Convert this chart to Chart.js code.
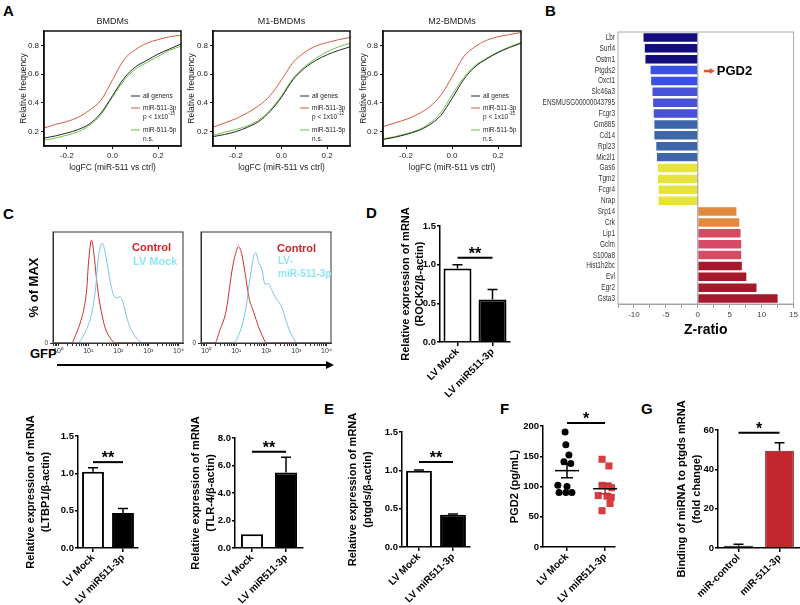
<!DOCTYPE html>
<html>
<head>
<meta charset="utf-8">
<script src="https://cdn.jsdelivr.net/npm/chart.js@4.4.1/dist/chart.umd.min.js"></script>
<style>
  body { margin: 0; width: 800px; height: 605px; background: #fff; position: relative; overflow: hidden; font-family: "Liberation Sans", Arial, sans-serif; }
  canvas { position: absolute; }
  .tag { position: absolute; font-weight: bold; font-size: 15px; line-height: 15px; }
</style>
</head>
<body>
<div class="tag" style="left:3px;top:3px">A</div>
<div class="tag" style="left:545px;top:3px">B</div>
<div class="tag" style="left:3px;top:206px">C</div>
<div class="tag" style="left:366px;top:205px">D</div>
<div class="tag" style="left:324px;top:401px">E</div>
<div class="tag" style="left:500px;top:401px">F</div>
<div class="tag" style="left:641px;top:401px">G</div>
<div style="position:absolute;left:30px;top:347px;font-weight:bold;font-size:13px;line-height:13px">GFP</div>
<div style="position:absolute;left:57px;top:364px;width:270px;height:1.5px;background:#000"></div>
<div style="position:absolute;left:326px;top:361px;width:0;height:0;border-left:8px solid #000;border-top:4px solid transparent;border-bottom:4px solid transparent"></div>
<script>
// A: cumulative frequency of logFC (miR-511 vs ctrl)
var logFC = [-0.3, -0.25, -0.2, -0.15, -0.1, -0.05, 0, 0.05, 0.1, 0.15, 0.2, 0.25, 0.3];
var bmdmAll = [0.155, 0.17, 0.19, 0.215, 0.255, 0.33, 0.45, 0.57, 0.65, 0.695, 0.74, 0.775, 0.81];
var bmdm3p = [0.225, 0.25, 0.27, 0.30, 0.35, 0.42, 0.56, 0.70, 0.77, 0.815, 0.84, 0.86, 0.87];
var bmdm5p = [0.14, 0.155, 0.175, 0.20, 0.245, 0.32, 0.44, 0.555, 0.635, 0.68, 0.725, 0.765, 0.795];
var m1All = [0.165, 0.18, 0.20, 0.23, 0.27, 0.34, 0.44, 0.56, 0.64, 0.695, 0.735, 0.765, 0.79];
var m13p = [0.23, 0.26, 0.29, 0.33, 0.38, 0.45, 0.56, 0.68, 0.75, 0.795, 0.82, 0.84, 0.855];
var m15p = [0.175, 0.195, 0.215, 0.24, 0.28, 0.35, 0.45, 0.57, 0.65, 0.71, 0.755, 0.79, 0.815];
var m2All = [0.145, 0.16, 0.18, 0.205, 0.245, 0.31, 0.43, 0.56, 0.65, 0.705, 0.75, 0.785, 0.815];
var m23p = [0.235, 0.26, 0.285, 0.32, 0.37, 0.45, 0.58, 0.72, 0.79, 0.835, 0.86, 0.875, 0.89];
var m25p = [0.15, 0.165, 0.185, 0.21, 0.255, 0.33, 0.455, 0.575, 0.66, 0.71, 0.755, 0.79, 0.82];
var cdfTicksX = [-0.2, 0, 0.2];
var cdfTicksY = [0.2, 0.4, 0.6, 0.8];

// B: Z-ratio per gene
var genes = ['Lbr', 'Surf4', 'Ostm1', 'Ptgds2', 'Oxct1', 'Slc46a3', 'ENSMUSG00000043795', 'Fcgr3', 'Gm885', 'Cd14', 'Rpl23', 'Mic2l1',
  'Gas6', 'Tgm2', 'Fcgr4', 'Nrap', 'Srp14', 'Crk', 'Lip1', 'Gclm', 'S100a8', 'Hist1h2bc', 'Evl', 'Egr2', 'Gsta3'];
var zRatio = [-8.5, -8.3, -8.2, -7.4, -7.3, -7.1, -7.0, -6.9, -6.8, -6.8, -6.5, -6.4,
  -6.25, -6.25, -6.15, -6.15, 6.05, 6.5, 6.7, 6.8, 6.8, 6.9, 7.6, 9.2, 12.5];
var zTicks = [-12.5, -10, -7.5, -5, -2.5, 0, 2.5, 5, 7.5, 10, 12.5, 15];

// C: GFP histograms (log10 GFP, % of max)
var ctrl1Log = [-0.17, 0.44, 0.60, 0.76, 0.87, 0.95, 1.01, 1.09, 1.11, 1.19, 1.27, 1.35, 1.46, 1.57, 1.73, 1.89, 4.15];
var ctrl1Pct = [0, 0, 9, 22, 35, 52, 78, 99, 100, 87, 64, 45, 27, 14, 5, 0, 0];
var mock1Log = [-0.17, 0.65, 0.82, 0.98, 1.14, 1.25, 1.33, 1.41, 1.46, 1.55, 1.62, 1.70, 1.78, 1.87, 1.95, 2.05, 2.13, 2.22, 2.32, 2.43, 2.59, 2.75, 2.91, 4.15];
var mock1Pct = [0, 0, 6, 16, 32, 55, 81, 94, 97, 90, 79, 65, 53, 45, 44, 45, 42, 32, 21, 13, 5, 1, 0, 0];
var ctrl2Log = [-0.17, 0.29, 0.45, 0.67, 0.77, 0.88, 1.01, 1.07, 1.18, 1.29, 1.42, 1.58, 1.74, 1.90, 2.0, 4.15];
var ctrl2Pct = [0, 0, 12, 32, 52, 74, 90, 94, 87, 69, 45, 30, 16, 5, 0, 0];
var mir2Log = [-0.17, 0.88, 1.10, 1.31, 1.47, 1.58, 1.65, 1.74, 1.85, 1.96, 2.06, 2.17, 2.33, 2.44, 2.55, 2.65, 2.76, 2.87, 2.98, 3.08, 4.15];
var mir2Pct = [0, 0, 9, 32, 65, 84, 88, 79, 72, 57, 58, 52, 43, 39, 32, 22, 13, 6, 1, 0, 0];
var sup = ['\u2070', '\u00b9', '\u00b2', '\u00b3', '\u2074'];

// D, E and bottom row: qPCR
var groups = ['LV Mock', 'LV miR511-3p'];
var relTicks = [0, 0.5, 1.0, 1.5];
var rock2Mean = [0.95, 0.55], rock2Err = [0.05, 0.13];
var ltbp1Mean = [1.02, 0.47], ltbp1Err = [0.055, 0.06];
var tlr4Mean = [1.0, 5.5], tlr4Err = [0, 1.1];
var tlrTicks = [0, 2, 4, 6, 8];
var ptgdsMean = [0.995, 0.42], ptgdsErr = [0.01, 0.01];

// F: PGD2 ELISA
var pgd2Mock = [190, 169, 152, 141, 138, 102, 100, 90, 90, 90];
var pgd2Mir = [145, 134, 102, 101, 98, 85, 84, 82, 72, 60];
var jitterMock = [-0.05, -0.03, 0.05, -0.08, 0.1, -0.24, 0, -0.21, -0.03, 0.13];
var jitterMir = [-0.08, 0.1, -0.08, 0.08, 0.18, -0.18, 0.05, 0.16, 0.13, -0.08];
var pgdTicks = [0, 50, 100, 150, 200];

// G: binding of miRNA to ptgds mRNA
var bindGroups = ['miR-control', 'miR-511-3p'];
var bindMean = [1.2, 49.5], bindErr = [0.7, 4.0];
var bindTicks = [0, 20, 40, 60];

Chart.defaults.font.family = 'Liberation Sans';
Chart.defaults.color = '#000';
Chart.defaults.animation = false;
Chart.defaults.responsive = false;
Chart.defaults.plugins.legend.display = false;
Chart.defaults.plugins.tooltip.enabled = false;

function place(id, l, t, w, h) {
  var c = document.createElement('canvas');
  c.id = id; c.width = w; c.height = h;
  c.style.left = l + 'px'; c.style.top = t + 'px';
  document.body.appendChild(c);
  return c;
}
function setW(w) { return function (s) { s.width = w; }; }
function setH(h) { return function (s) { s.height = h; }; }
function only(vals) { return function (s) { s.ticks = vals.map(function (v) { return { value: v }; }); }; }
function pts(xs, ys) { return xs.map(function (x, i) { return { x: x, y: ys[i] }; }); }
function frame(color, lw) {
  return { id: 'frame', afterDraw: function (c) {
    var a = c.chartArea, ctx = c.ctx;
    ctx.save(); ctx.strokeStyle = color; ctx.lineWidth = lw;
    ctx.strokeRect(a.left, a.top, a.right - a.left, a.bottom - a.top);
    ctx.restore();
  } };
}
function notes(items) {
  return { id: 'notes', afterDraw: function (c) {
    var ctx = c.ctx, a = c.chartArea;
    ctx.save(); ctx.textBaseline = 'middle'; ctx.textAlign = 'left';
    items.forEach(function (n) { ctx.font = n.f; ctx.fillStyle = n.c; ctx.fillText(n.t, a.left + n.x, a.top + n.y); });
    ctx.restore();
  } };
}
function sigLine(c, x0, x1, py, stars) {
  var ctx = c.ctx;
  ctx.save(); ctx.strokeStyle = '#000'; ctx.lineWidth = 2;
  ctx.beginPath(); ctx.moveTo(x0, py); ctx.lineTo(x1, py); ctx.stroke();
  ctx.fillStyle = '#000'; ctx.font = 'bold 16px Liberation Sans'; ctx.textAlign = 'center'; ctx.textBaseline = 'alphabetic';
  ctx.fillText(stars, (x0 + x1) / 2, py + 1);
  ctx.restore();
}
function errBars(c, errs) {
  var ctx = c.ctx, y = c.scales.y, bars = c.getDatasetMeta(0).data, vals = c.data.datasets[0].data;
  ctx.save(); ctx.strokeStyle = '#000'; ctx.lineWidth = 1.5;
  bars.forEach(function (b, i) {
    if (!errs[i]) return;
    var top = y.getPixelForValue(vals[i] + errs[i]);
    ctx.beginPath(); ctx.moveTo(b.x, b.y); ctx.lineTo(b.x, top);
    ctx.moveTo(b.x - 5, top); ctx.lineTo(b.x + 5, top); ctx.stroke();
  });
  ctx.restore();
}

// ---------- A ----------
var cRed = '#d65a3f', cGreen = '#6cc24a', cBlack = '#262626';
function cdfPanel(id, l, padL, yW, padR, name, all, p3, p5, allName, pExp) {
  new Chart(place(id, l, 12, 190, 176), {
    type: 'line',
    data: { datasets: [
      { data: pts(logFC, all), borderColor: cBlack },
      { data: pts(logFC, p3), borderColor: cRed },
      { data: pts(logFC, p5), borderColor: cGreen }
    ] },
    options: {
      layout: { padding: { left: padL, right: padR, top: 19, bottom: 0 } },
      elements: { point: { radius: 0 }, line: { borderWidth: 1, cubicInterpolationMode: 'monotone' } },
      scales: {
        x: { type: 'linear', min: -0.3, max: 0.3, afterBuildTicks: only(cdfTicksX), afterFit: setH(42),
          ticks: { autoSkip: false, maxRotation: 0, padding: 2, color: '#222', font: { size: 8 }, callback: function (v) { return v.toFixed(1); } },
          grid: { drawOnChartArea: false, tickLength: 3, color: '#111' },
          border: { color: '#111', width: 1.5 },
          title: { display: true, text: 'logFC (miR-511 vs ctrl)', color: '#222', font: { size: 8.5 }, padding: { top: 0, bottom: 15 } } },
        y: { min: 0.1, max: 0.9, afterBuildTicks: only(cdfTicksY), afterFit: setW(yW),
          ticks: { padding: 2, color: '#222', font: { size: 8 }, callback: function (v) { return v.toFixed(1); } },
          grid: { drawOnChartArea: false, tickLength: 3, color: '#111' },
          border: { color: '#111', width: 1.5 },
          title: { display: true, text: 'Relative frequency', color: '#222', font: { size: 8.5 }, padding: { top: 7, bottom: 0 } } }
      }
    },
    plugins: [frame('#111', 1.5), { id: 'cdfText', afterDraw: function (c) {
      var ctx = c.ctx, a = c.chartArea, x0 = a.right - 50, tx = a.right - 38;
      ctx.save();
      ctx.fillStyle = '#222'; ctx.textAlign = 'center'; ctx.textBaseline = 'middle';
      ctx.font = '9px Liberation Sans';
      ctx.fillText(name, (a.left + a.right) / 2, a.top - 9);
      ctx.textAlign = 'left'; ctx.lineWidth = 1;
      [[allName, cBlack, 65], ['miR-511-3p', cRed, 77], ['miR-511-5p', cGreen, 99]].forEach(function (r) {
        ctx.strokeStyle = r[1];
        ctx.beginPath(); ctx.moveTo(x0, a.top + r[2]); ctx.lineTo(x0 + 9, a.top + r[2]); ctx.stroke();
        ctx.font = '6.5px Liberation Sans'; ctx.fillText(r[0], tx, a.top + r[2]);
      });
      ctx.font = '6.5px Liberation Sans';
      ctx.fillText('p < 1x10', tx, a.top + 86);
      var pw = ctx.measureText('p < 1x10').width;
      ctx.font = '4.5px Liberation Sans';
      ctx.fillText(pExp, tx + pw + 0.5, a.top + 83);
      ctx.font = '6.5px Liberation Sans';
      ctx.fillText('n.s.', tx, a.top + 108);
      ctx.restore();
    } }]
  });
}
cdfPanel('a1', 0, 12, 32, 9, 'BMDMs', bmdmAll, bmdm3p, bmdm5p, 'all genens', '-15');
cdfPanel('a2', 170, 10, 33, 10, 'M1-BMDMs', m1All, m13p, m15p, 'all genes', '-12');
cdfPanel('a3', 340, 12, 31, 9, 'M2-BMDMs', m2All, m23p, m25p, 'all genes', '-15');

// ---------- B ----------
var zShade = ['#120c7c', '#120c7c', '#120c7c', '#3a50e8', '#3a50e8', '#4752d8', '#4752d8', '#4752d8', '#3c66a9', '#3c66a9', '#3c66a9', '#3c66a9',
  '#e6e43c', '#e6e43c', '#e6e43c', '#e6e43c', '#e3893b', '#e3893b', '#d64a65', '#d64a65', '#d64a65', '#a6192d', '#a6192d', '#a6192d', '#a6192d'];
new Chart(place('zr', 540, 20, 260, 325), {
  type: 'bar',
  data: { labels: genes, datasets: [{ data: zRatio, backgroundColor: zShade, barPercentage: 0.78, categoryPercentage: 1 }] },
  options: {
    indexAxis: 'y',
    layout: { padding: { left: 0, right: 3, top: 12, bottom: 0 } },
    scales: {
      x: { min: -12.5, max: 15, afterBuildTicks: only(zTicks), afterFit: setH(41),
        ticks: { autoSkip: false, maxRotation: 0, padding: 2, color: '#444', font: { size: 8 }, callback: function (v) { return v % 5 === 0 ? String(v) : ''; } },
        grid: { drawOnChartArea: false, tickLength: 4, color: '#999' },
        border: { color: '#999' },
        title: { display: true, text: 'Z-ratio', font: { size: 14, weight: 'bold' }, padding: { top: 0, bottom: 6 } } },
      y: { afterFit: setW(78), grid: { display: false, drawTicks: false }, border: { display: false },
        ticks: { display: false, autoSkip: false } }
    }
  },
  plugins: [frame('#aaa', 1), { id: 'geneLabels', afterDraw: function (c) {
    // narrow gene names, as in the original figure
    var ctx = c.ctx, s = c.scales.y, x = c.chartArea.left - 3;
    ctx.save(); ctx.fillStyle = '#333'; ctx.font = '9px Liberation Sans'; ctx.textAlign = 'right'; ctx.textBaseline = 'middle';
    c.data.labels.forEach(function (g, i) {
      ctx.save(); ctx.translate(x, s.getPixelForValue(i)); ctx.scale(0.72, 1); ctx.fillText(g, 0, 0); ctx.restore();
    });
    ctx.restore();
  } }, { id: 'pgd2', afterDraw: function (c) {
    var ctx = c.ctx, a = c.chartArea, x0 = c.scales.x.getPixelForValue(0), y = c.scales.y.getPixelForValue(3) + 1;
    ctx.save();
    ctx.strokeStyle = '#999'; ctx.lineWidth = 1;
    ctx.beginPath(); ctx.moveTo(x0, a.top); ctx.lineTo(x0, a.bottom); ctx.stroke();
    ctx.strokeStyle = '#e8502a'; ctx.fillStyle = '#e8502a'; ctx.lineWidth = 2.5;
    ctx.beginPath(); ctx.moveTo(x0 + 6, y); ctx.lineTo(x0 + 13, y); ctx.stroke();
    ctx.beginPath(); ctx.moveTo(x0 + 12, y - 3); ctx.lineTo(x0 + 17, y); ctx.lineTo(x0 + 12, y + 3); ctx.fill();
    ctx.fillStyle = '#000'; ctx.font = 'bold 13px Liberation Sans'; ctx.textBaseline = 'middle';
    ctx.fillText('PGD2', x0 + 19, y);
    ctx.restore();
  } }]
});

// ---------- C ----------
function logTicks() {
  var t = [];
  for (var d = -1; d <= 4; d++) for (var k = 1; k <= 9; k++) {
    var v = d + Math.log10(k);
    if (v >= -0.17 && v <= 4.15) t.push({ value: v });
  }
  return t;
}
function histPanel(id, l, w, padL, yW, redX, redY, blueX, blueY, yTitle, items) {
  new Chart(place(id, l, 222, w, 139), {
    type: 'line',
    data: { datasets: [
      { data: pts(blueX, blueY), borderColor: '#78c2ea' },
      { data: pts(redX, redY), borderColor: '#d42b2b' }
    ] },
    options: {
      layout: { padding: { left: padL, right: 7, top: 10, bottom: 0 } },
      elements: { point: { radius: 0 }, line: { borderWidth: 1, cubicInterpolationMode: 'monotone' } },
      scales: {
        x: { type: 'linear', min: -0.17, max: 4.15, afterFit: setH(18),
          afterBuildTicks: function (s) { s.ticks = logTicks(); },
          ticks: { autoSkip: false, maxRotation: 0, padding: 1, color: '#333', font: { size: 7 },
            callback: function (v) { var r = Math.round(v); return Math.abs(v - r) < 1e-9 && r >= 0 ? '10' + sup[r] : ''; } },
          grid: { drawOnChartArea: false, tickLength: 3, color: '#333' },
          border: { color: '#333' } },
        y: { min: 0, max: 108, afterBuildTicks: only([0]), afterFit: setW(yW),
          ticks: { padding: 2, color: '#333', font: { size: 6.5 } },
          grid: { drawOnChartArea: false, tickLength: 3, color: '#333' },
          border: { color: '#333' },
          title: { display: !!yTitle, text: yTitle, font: { size: 13, weight: 'bold' }, padding: { top: 0, bottom: 0 } } }
      }
    },
    plugins: [frame('#333', 1), notes(items)]
  });
}
var noteRed = '#d3222a', noteCyan = '#8fe6f7';
histPanel('c1', 15, 175, 12, 26, ctrl1Log, ctrl1Pct, mock1Log, mock1Pct, '% of MAX', [
  { t: 'Control', x: 79, y: 16, c: noteRed, f: 'bold 11px Liberation Sans' },
  { t: 'LV Mock', x: 80, y: 30, c: noteCyan, f: 'bold 11px Liberation Sans' }
]);
histPanel('c2', 185, 153, 0, 16, ctrl2Log, ctrl2Pct, mir2Log, mir2Pct, '', [
  { t: 'Control', x: 76, y: 17, c: noteRed, f: 'bold 11px Liberation Sans' },
  { t: 'LV-', x: 77, y: 29, c: noteCyan, f: 'bold 10px Liberation Sans' },
  { t: 'miR-511-3p', x: 77, y: 42, c: noteCyan, f: 'bold 10px Liberation Sans' }
]);

// ---------- bar panels ----------
function barPanel(o) {
  return new Chart(place(o.id, o.l, o.t, o.w, o.h), {
    type: 'bar',
    data: { labels: o.labels, datasets: [{ data: o.mean, backgroundColor: o.fill, borderColor: o.edge, borderWidth: o.bw,
      barPercentage: o.bp, categoryPercentage: 1 }] },
    options: {
      layout: { padding: { left: 0, right: o.padR, top: o.padT, bottom: 0 } },
      scales: {
        x: { afterFit: setH(o.xH),
          grid: { drawOnChartArea: false, offset: false, tickLength: 4, color: '#000', lineWidth: 1.5 },
          border: { color: '#000', width: 1.5 },
          ticks: { autoSkip: false, minRotation: 45, maxRotation: 45, padding: 0, font: { size: 10, weight: 'bold' } } },
        y: { min: 0, max: o.max, afterBuildTicks: only(o.ticks), afterFit: setW(o.yW),
          grid: { drawOnChartArea: false, tickLength: 3, color: '#000', lineWidth: 1.5 },
          border: { color: '#000', width: 1.5 },
          ticks: { padding: 1, font: { size: 9.5, weight: 'bold' }, callback: function (v) { return v.toFixed(o.dec); } },
          title: { display: true, text: o.title, font: { size: 11, weight: 'bold', lineHeight: o.lh }, padding: { top: o.tp, bottom: 0 } } }
      }
    },
    plugins: [{ id: 'stats', afterDraw: function (c) {
      var b = c.getDatasetMeta(0).data;
      errBars(c, o.err);
      sigLine(c, b[0].x, b[1].x, c.scales.y.getPixelForValue(o.sig), o.stars);
    } }]
  });
}
var wb = ['#fff', '#000'];
barPanel({ id: 'd', l: 395, t: 205, w: 120, h: 197, padR: 5, padT: 21, yW: 45, xH: 60, tp: 4, lh: 1.25,
  labels: groups, mean: rock2Mean, err: rock2Err, fill: wb, edge: '#000', bw: 2, bp: 0.8,
  max: 1.5, ticks: relTicks, dec: 1, sig: 1.09, stars: '**', title: ['Relative expression of mRNA', '(ROCK2/\u03b2-actin)'] });
barPanel({ id: 'ltbp', l: 15, t: 400, w: 128, h: 205, padR: 5, padT: 36, yW: 63, xH: 57, tp: 8.6, lh: 1.35,
  labels: groups, mean: ltbp1Mean, err: ltbp1Err, fill: wb, edge: '#000', bw: 2, bp: 0.73,
  max: 1.5, ticks: relTicks, dec: 1, sig: 1.15, stars: '**', title: ['Relative expression of mRNA', '(LTBP1/\u03b2-actin)'] });
barPanel({ id: 'tlr', l: 175, t: 400, w: 133, h: 205, padR: 5, padT: 38, yW: 60, xH: 57, tp: 13.6, lh: 1.35,
  labels: groups, mean: tlr4Mean, err: tlr4Err, fill: wb, edge: '#000', bw: 2, bp: 0.65,
  max: 8, ticks: tlrTicks, dec: 1, sig: 7.0, stars: '**', title: ['Relative expression of mRNA', '(TLR-4/\u03b2-actin)'] });
barPanel({ id: 'e', l: 335, t: 400, w: 140, h: 205, padR: 5, padT: 32, yW: 67, xH: 58, tp: 10.6, lh: 1.35,
  labels: groups, mean: ptgdsMean, err: ptgdsErr, fill: wb, edge: '#000', bw: 2, bp: 0.76,
  max: 1.5, ticks: relTicks, dec: 1, sig: 1.11, stars: '**', title: ['Relative expression of mRNA', '(ptgds/\u03b2-actin)'] });
barPanel({ id: 'g', l: 660, t: 400, w: 140, h: 205, padR: 0, padT: 30, yW: 58, xH: 57, tp: 14.6, lh: 1.35,
  labels: bindGroups, mean: bindMean, err: bindErr, fill: ['#111', '#c1272d'], edge: ['#000', '#6d1216'], bw: 1, bp: 0.7,
  max: 60, ticks: bindTicks, dec: 0, sig: 58.6, stars: '*', title: ['Binding of miRNA to ptgds mRNA', '(fold change)'] });

// ---------- F ----------
function meanSem(v) {
  var m = v.reduce(function (s, x) { return s + x; }, 0) / v.length;
  var sd = Math.sqrt(v.reduce(function (s, x) { return s + (x - m) * (x - m); }, 0) / (v.length - 1));
  return [m, sd / Math.sqrt(v.length)];
}
new Chart(place('f', 500, 400, 120, 205), {
  type: 'scatter',
  data: { datasets: [
    { data: pgd2Mock.map(function (y, i) { return { x: 0 + jitterMock[i], y: y }; }), pointStyle: 'circle', pointRadius: 3.5, backgroundColor: '#000', borderWidth: 0 },
    { data: pgd2Mir.map(function (y, i) { return { x: 1 + jitterMir[i], y: y }; }), pointStyle: 'rect', pointRadius: 5, backgroundColor: '#d63a43', borderWidth: 0 }
  ] },
  options: {
    layout: { padding: { left: 0, right: 5, top: 26, bottom: 0 } },
    scales: {
      x: { type: 'linear', min: -0.63, max: 1.26, afterBuildTicks: only([0, 1]), afterFit: setH(58),
        grid: { drawOnChartArea: false, tickLength: 4, color: '#000', lineWidth: 1.5 },
        border: { color: '#000', width: 1.5 },
        ticks: { autoSkip: false, minRotation: 45, maxRotation: 45, padding: 0, font: { size: 10, weight: 'bold' },
          callback: function (v) { return groups[v]; } } },
      y: { min: 0, max: 200, afterBuildTicks: only(pgdTicks), afterFit: setW(43),
        grid: { drawOnChartArea: false, tickLength: 3, color: '#000', lineWidth: 1.5 },
        border: { color: '#000', width: 1.5 },
        ticks: { padding: 1, font: { size: 9.5, weight: 'bold' } },
        title: { display: true, text: 'PGD2 (pg/mL)', font: { size: 11, weight: 'bold' }, padding: { top: 8.4, bottom: 0 } } }
    }
  },
  plugins: [{ id: 'summary', afterDraw: function (c) {
    var ctx = c.ctx, sx = c.scales.x, sy = c.scales.y;
    [[pgd2Mock, 0, '#000'], [pgd2Mir, 1, '#b8323a']].forEach(function (g) {
      var ms = meanSem(g[0]), x = sx.getPixelForValue(g[1]);
      var ym = sy.getPixelForValue(ms[0]), yh = sy.getPixelForValue(ms[0] + ms[1]), yl = sy.getPixelForValue(ms[0] - ms[1]);
      ctx.save(); ctx.lineWidth = 1.5;
      ctx.strokeStyle = g[2];
      ctx.beginPath(); ctx.moveTo(x, yh); ctx.lineTo(x, yl);
      ctx.moveTo(x - 6, yh); ctx.lineTo(x + 6, yh); ctx.moveTo(x - 6, yl); ctx.lineTo(x + 6, yl); ctx.stroke();
      ctx.strokeStyle = '#000';
      ctx.beginPath(); ctx.moveTo(x - 12, ym); ctx.lineTo(x + 12, ym); ctx.stroke();
      ctx.restore();
    });
    sigLine(c, sx.getPixelForValue(0), sx.getPixelForValue(1), sy.getPixelForValue(205), '*');
  } }]
});
</script>
</body>
</html>
